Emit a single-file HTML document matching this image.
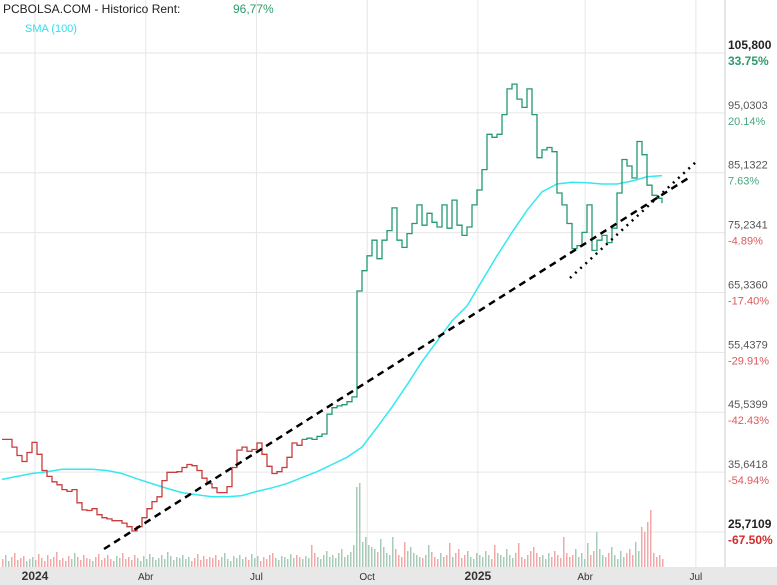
<!DOCTYPE html>
<html><head><meta charset="utf-8"><style>
body{margin:0;background:#fff;font-family:"Liberation Sans",sans-serif}
svg{display:block}
</style></head><body>
<svg id="c" width="777" height="585" xmlns="http://www.w3.org/2000/svg">
<rect x="0" y="0" width="777" height="585" fill="#fff"/>
<g id="grid"></g>
<g id="vol"></g>
<g id="sma"></g>
<g id="price"></g>
<g id="trend"></g>
<rect x="0" y="567" width="777" height="18" fill="#e8e8e8"/>
<line x1="725" y1="0" x2="725" y2="567" stroke="#ccc"/>
<g id="xl"></g>
<g id="yl"></g>
<text x="3" y="13" font-size="12" fill="#222">PCBOLSA.COM - Historico  Rent:</text>
<text x="233" y="13" font-size="12" fill="#2e9a6a">96,77%</text>
<text x="25" y="32" font-size="11" fill="#33e0e8">SMA (100)</text>
</svg>
<script>
const yTicks=["105,800","95,0303","85,1322","75,2341","65,3360","55,4379","45,5399","35,6418","25,7109"];
const yPct=["33.75%","20.14%","7.63%","-4.89%","-17.40%","-29.91%","-42.43%","-54.94%","-67.50%"];
const xLabels=["2024","Abr","Jul","Oct","2025","Abr","Jul"];
const xLabelPos=[0,3.2,6.4,9.6,12.8,15.9,19.1];
const priceVals=[41.2,41.2,39.9,38.5,37.5,39.0,40.7,38.7,36.0,35.0,34.1,33.6,32.8,32.5,32.8,30.6,29.4,29.3,29.6,28.6,28.1,27.9,27.6,27.6,27.2,26.6,25.9,26.6,28.1,29.6,30.8,31.6,34.3,35.7,35.7,35.8,36.5,37.0,36.8,36.0,34.7,33.8,33.1,32.3,32.3,33.3,36.5,39.4,39.9,39.2,39.5,40.6,38.7,36.7,35.5,35.8,36.5,38.2,40.6,40.2,41.2,41.4,41.2,41.7,42.1,45.4,46.5,46.8,47.0,47.5,48.3,66.0,69.4,71.9,74.5,71.4,74.5,76.1,79.9,74.5,73.3,75.6,77.3,80.4,77.0,79.0,77.5,76.7,80.4,76.5,81.2,77.0,75.3,76.7,80.4,82.9,86.3,92.2,91.7,92.2,95.5,99.8,100.6,98.1,96.7,99.8,95.5,88.3,89.6,90.0,89.3,82.4,80.4,77.3,73.1,73.6,75.8,80.4,72.8,74.5,75.3,74.1,76.5,82.4,88.0,86.9,84.9,91.0,88.8,83.7,82.0,81.5,80.7];
const smaVals=[34.5,35.0,35.5,35.8,36.2,36.2,36.2,36.0,35.5,34.6,33.8,33.0,32.3,31.95,31.6,31.6,31.8,32.5,33.1,33.8,34.8,35.8,37.0,38.2,39.9,43.2,46.6,50.3,54.2,57.6,61.0,63.5,67.7,71.9,75.8,79.5,82.6,83.9,84.2,84.1,83.9,83.9,84.4,85.1,85.3];
const volVals=[8,12,6,10,14,7,9,11,6,8,10,7,13,9,6,12,8,10,15,7,9,6,11,8,14,10,7,12,9,8,6,10,13,7,9,12,8,6,11,9,14,8,10,7,12,9,6,11,8,13,10,7,9,12,8,15,11,7,10,9,12,8,10,6,9,13,7,11,8,10,9,12,7,10,14,8,6,11,9,12,8,10,7,13,9,11,6,10,8,12,14,9,7,11,10,8,13,9,12,10,8,11,9,22,14,10,8,12,16,10,12,9,14,18,10,12,15,22,80,84,25,30,22,20,18,15,28,20,14,12,30,18,12,10,25,16,20,14,12,10,9,12,22,15,10,8,14,10,12,24,10,14,18,9,12,16,10,8,14,12,10,16,12,8,22,14,12,10,18,12,9,14,24,10,8,12,16,20,14,10,12,8,14,10,16,12,9,30,14,10,12,18,10,14,8,24,12,16,35,18,12,10,14,20,12,8,16,10,14,18,12,25,16,40,35,45,57,14,10,12,8];
const S=v=>532-(v-25.7109)*479/80.089;
const X0=2,X1=662;
const M=m=>35+m*34.6;
const ns="http://www.w3.org/2000/svg";
function mk(p,t,a){const e=document.createElementNS(ns,t);for(const k in a)e.setAttribute(k,a[k]);document.getElementById(p).appendChild(e);return e;}
yTicks.forEach((t,i)=>{const y=S(105.8-i*10.0111);
const g=mk('grid','line',{x1:0,x2:725,y1:y,y2:y,stroke:'#e6e6e6'});


const bold=(i==0||i==8);
const a=mk('yl','text',{x:728,y:y-4,'font-size':bold?12:11,fill:bold?'#222':'#555','font-weight':bold?'bold':'normal'});a.textContent=t;


const pos=yPct[i][0]!='-';
const b=mk('yl','text',{x:728,y:y+12,'font-size':bold?12:11,fill:pos?(bold?'#2e9a6a':'#4aa57f'):(bold?'#d42a2a':'#dc5a5a'),'font-weight':bold?'bold':'normal'});b.textContent=yPct[i];

});
xLabels.forEach((t,i)=>{const x=M(xLabelPos[i]);
const g=mk('grid','line',{x1:x,x2:x,y1:0,y2:567,stroke:'#e6e6e6'});


const bold=(t=='2024'||t=='2025');
const a=mk('xl','text',{x:x,y:580,'font-size':bold?12:10,fill:'#333','text-anchor':'middle','font-weight':bold?'bold':'normal'});a.textContent=t;

});
const vw=(X1-X0)/(volVals.length-1);
volVals.forEach((v,i)=>{const pi=Math.min(priceVals.length-1,Math.round(i*(priceVals.length-1)/(volVals.length-1)));const up=pi>0&&priceVals[pi]>=priceVals[pi-1];
const r=mk('vol','rect',{x:X0+i*vw,y:567-v,width:1.5,height:v,fill:up?'#a8cbb8':'#f0a8a8'});

});
const pw=(X1-X0)/(priceVals.length-1);
let dr='',dg='';const split=60;
priceVals.forEach((v,i)=>{const x=X0+i*pw,y=S(v);
if(i<=split){dr+=(i==0?'M'+x.toFixed(1)+','+y.toFixed(1):'H'+x.toFixed(1)+'V'+y.toFixed(1));}
if(i>=split){dg+=(i==split?'M'+x.toFixed(1)+','+y.toFixed(1):'H'+x.toFixed(1)+'V'+y.toFixed(1));}});
const pr=mk('price','path',{d:dr,fill:'none',stroke:'#c83c3c','stroke-width':1.3});


const pg=mk('price','path',{d:dg,fill:'none',stroke:'#239a70','stroke-width':1.3});


const sw=(X1-X0)/(smaVals.length-1);
const sp=mk('sma','polyline',{points:smaVals.map((v,i)=>(X0+i*sw).toFixed(1)+','+S(v).toFixed(1)).join(' '),fill:'none',stroke:'#33e8f0','stroke-width':1.5});


const t1=mk('trend','line',{x1:104,y1:549,x2:690,y2:177,stroke:'#000','stroke-width':2.5,'stroke-dasharray':'7,5'});


const t2=mk('trend','line',{x1:570,y1:278,x2:697,y2:161,stroke:'#000','stroke-width':2.5,'stroke-dasharray':'2,5'});


</script>
</body></html>
